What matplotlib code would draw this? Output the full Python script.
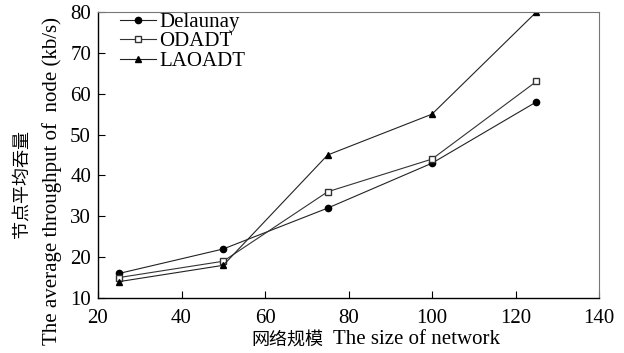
import matplotlib.pyplot as plt

sizes = [25, 50, 75, 100, 125]
delaunay = [16, 22, 32, 43, 58]
odadt = [15, 19, 36, 44, 63]
laoadt = [14, 18, 45, 55, 80]

plt.rcParams['font.family'] = ['Liberation Serif', 'Noto Sans CJK SC']
plt.rcParams['font.size'] = 15

W, H = 624, 353
fig = plt.figure(figsize=(W/100, H/100), dpi=100)
ax = fig.add_axes([98/W, 55/H, 501/W, 286/H])

ax.plot(sizes, delaunay, color='#222222', lw=0.8, marker='o', ms=4.5, mfc='black', mec='black', label='Delaunay')
ax.plot(sizes, odadt, color='#333333', lw=0.8, marker='s', ms=4.5, mfc='white', mec='#333333', label='ODADT')
ax.plot(sizes, laoadt, color='#222222', lw=0.8, marker='^', ms=4.5, mfc='black', mec='black', label='LAOADT')

ax.set_xlim(20, 140)
ax.set_ylim(10, 80)
ax.set_xticks([20, 40, 60, 80, 100, 120, 140])
ax.set_yticks([10, 20, 30, 40, 50, 60, 70, 80])
ax.tick_params(direction='in', length=5, width=0.8, labelsize=15)
ax.tick_params(axis='x', pad=8)
ax.tick_params(axis='y', pad=5)
for s in ['top', 'right']:
    ax.spines[s].set_color('#777777')
for s in ['left', 'bottom']:
    ax.spines[s].set_color('black')
    ax.spines[s].set_linewidth(1.0)

# axis titles (Chinese + English, placed separately)
fig.text(287/W, 1 - 340/H, '网络规模', fontsize=13, family='Noto Sans CJK SC',
         ha='center', va='center')
fig.text(333/W, 1 - 340/H, 'The size of network', fontsize=15, ha='left', va='center')
fig.text(22/W, 1 - 184/H, '节点平均吞量', fontsize=13, family='Noto Sans CJK SC',
         rotation=90, ha='center', va='center')
fig.text(52/W, 1 - 181/H, 'The average throughput of  node (kb/s)', fontsize=15,
         rotation=90, ha='center', va='center')

ax.legend(loc='upper left', frameon=False, fontsize=15, handlelength=1.7,
          handletextpad=0.15, labelspacing=0.0, borderaxespad=0.0,
          bbox_to_anchor=(0.028, 1.028))

fig.savefig('out.png', dpi=100)
